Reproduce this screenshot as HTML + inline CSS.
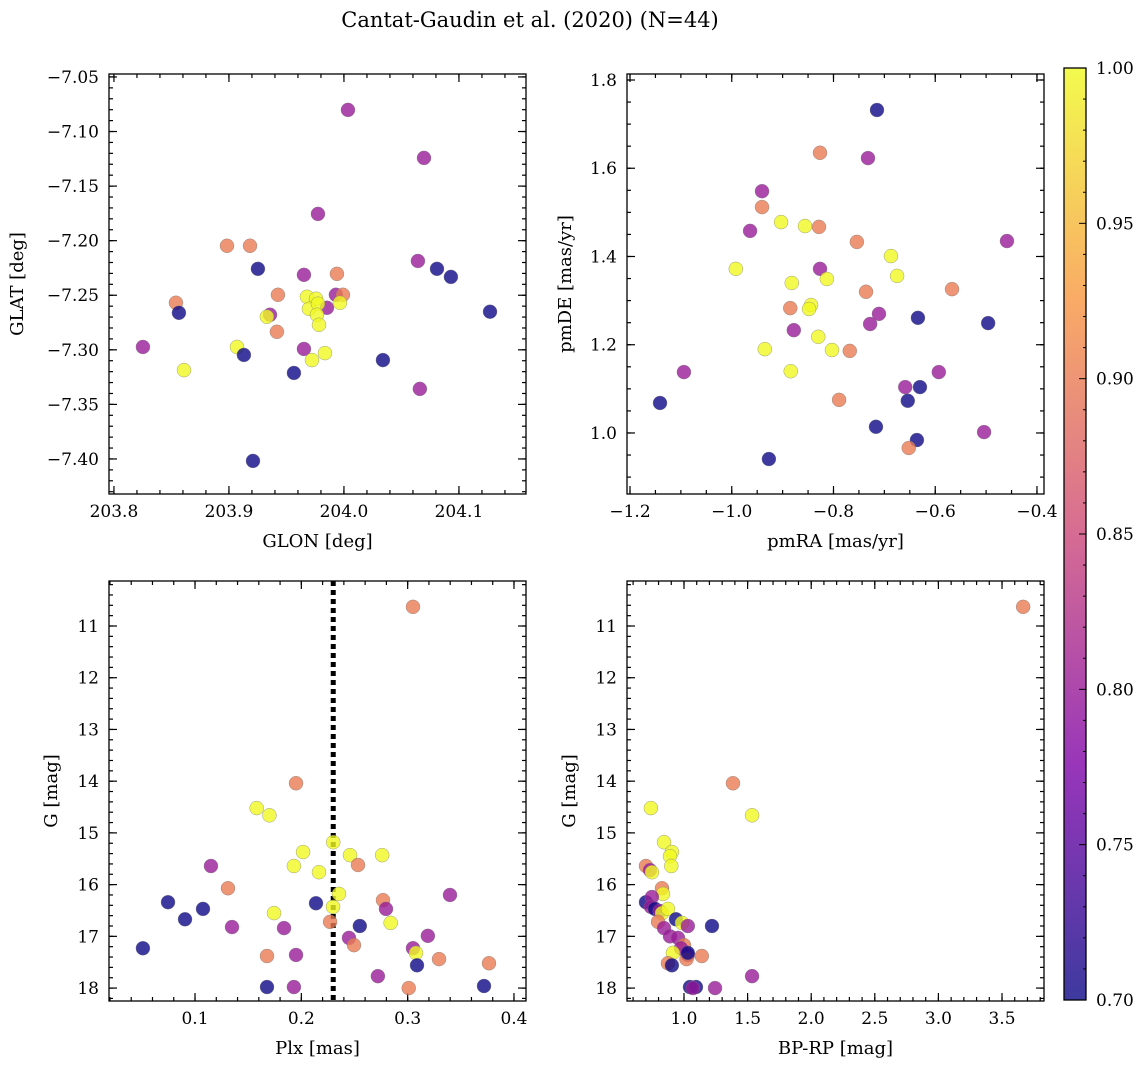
<!DOCTYPE html>
<html><head><meta charset="utf-8"><style>
html,body{margin:0;padding:0;background:#fff;}
svg text{font-family:"DejaVu Serif","Liberation Serif",serif;fill:#000;}
</style></head><body>
<svg id="fig" width="1148" height="1068" xmlns="http://www.w3.org/2000/svg">
<defs><linearGradient id="plasma" x1="0" y1="1" x2="0" y2="0">
<stop offset="0" stop-color="#0d0887"/><stop offset="0.25" stop-color="#7e03a8"/><stop offset="0.5" stop-color="#cc4778"/><stop offset="0.75" stop-color="#f89540"/><stop offset="1" stop-color="#f0f921"/></linearGradient></defs>
<text x="530" y="27" font-size="21" text-anchor="middle">Cantat-Gaudin et al. (2020) (N=44)</text>
</svg>
<script>
// Panel 1: GLON vs GLAT
const p1x=[204.0035,204.0696,203.9774,203.8983,203.9183,203.9252,203.9939,203.9652,204.0643,204.0809,204.093,203.8539,203.8565,204.127,203.8252,203.8609,203.907,203.913,203.9426,203.9357,203.933,203.9417,203.9565,204.0339,204.066,203.9209,203.9652,203.9722,203.9835,203.9852,203.9678,203.9757,203.9696,203.9774,203.9765,203.9783,203.9930,203.9991,203.9965];
const p1y=[-7.0802,-7.1242,-7.1755,-7.2047,-7.2047,-7.2258,-7.2304,-7.2313,-7.2186,-7.2258,-7.2332,-7.2569,-7.2661,-7.2651,-7.2974,-7.3186,-7.2974,-7.3047,-7.2496,-7.2679,-7.2697,-7.2835,-7.3212,-7.3094,-7.3358,-7.4018,-7.2992,-7.3094,-7.3030,-7.2615,-7.2514,-7.2532,-7.2624,-7.2578,-7.2679,-7.2771,-7.2496,-7.2496,-7.2569];
const p1c=[0.8,0.8,0.8,0.9,0.9,0.7,0.9,0.8,0.8,0.7,0.7,0.9,0.7,0.7,0.8,1,1,0.7,0.9,0.8,1,0.9,0.7,0.7,0.8,0.7,0.8,1,1,0.8,1,1,1,1,1,1,0.8,0.9,1];
// Panel 2: pmRA vs pmDE
const p2x=[-0.7145,-0.7322,-0.8265,-0.9405,-0.9405,-0.964,-0.903,-0.856,-0.8285,-0.754,-0.687,-0.459,-0.992,-0.8265,-0.675,-0.813,-0.882,-0.736,-0.567,-0.844,-0.848,-0.885,-0.7106,-0.728,-0.634,-0.496,-0.878,-0.83,-0.935,-0.803,-0.768,-0.884,-1.094,-0.593,-0.659,-0.63,-0.654,-0.789,-1.141,-0.7165,-0.636,-0.652,-0.504,-0.927];
const p2y=[1.732,1.623,1.635,1.548,1.512,1.458,1.478,1.469,1.467,1.433,1.401,1.435,1.372,1.372,1.356,1.349,1.34,1.32,1.326,1.29,1.281,1.283,1.27,1.247,1.261,1.249,1.233,1.218,1.19,1.188,1.186,1.14,1.138,1.138,1.104,1.104,1.073,1.075,1.068,1.014,0.984,0.966,1.002,0.941];
const p2c=[0.7,0.8,0.9,0.8,0.9,0.8,1,1,0.9,0.9,1,0.8,1,0.8,1,1,1,0.9,0.9,1,1,0.9,0.8,0.8,0.7,0.7,0.8,1,1,1,0.9,1,0.8,0.8,0.8,0.7,0.7,0.9,0.7,0.7,0.7,0.9,0.8,0.7];
// Panel 3: Plx vs G
const p3x=[0.305,0.195,0.158,0.17,0.23,0.2016,0.2458,0.276,0.115,0.193,0.2533,0.2166,0.131,0.2354,0.3398,0.0746,0.2138,0.2768,0.2298,0.2796,0.1075,0.1743,0.0906,0.227,0.284,0.255,0.1348,0.1837,0.319,0.2448,0.2495,0.305,0.051,0.3078,0.195,0.1677,0.3295,0.3088,0.3765,0.272,0.1677,0.193,0.301,0.3718];
const p3y=[10.63,14.04,14.52,14.66,15.18,15.37,15.43,15.43,15.64,15.64,15.62,15.76,16.07,16.18,16.2,16.34,16.36,16.3,16.43,16.47,16.47,16.55,16.67,16.72,16.74,16.8,16.82,16.84,16.99,17.03,17.17,17.23,17.23,17.32,17.36,17.38,17.44,17.56,17.52,17.77,17.98,17.98,18.0,17.96];
const p3c=[0.9,0.9,1,1,1,1,1,1,0.8,1,0.9,1,0.9,1,0.8,0.7,0.7,0.9,1,0.8,0.7,1,0.7,0.9,1,0.7,0.8,0.8,0.8,0.8,0.9,0.8,0.7,1,0.8,0.9,0.9,0.7,0.9,0.8,0.7,0.8,0.9,0.7];
const plxLine=0.23;
// Panel 4: BP-RP vs G
const p4x=[3.666,1.385,0.74,1.535,0.843,0.905,0.89,0.9,0.701,0.733,0.748,0.827,0.835,0.701,0.748,0.74,0.772,0.81,0.827,0.874,0.937,0.984,1.03,1.22,0.796,0.843,0.89,0.953,1.0,0.976,0.913,1.03,1.14,1.02,1.03,0.874,0.905,1.535,1.047,1.094,1.244,1.07];
const p4y=[10.63,14.04,14.52,14.66,15.18,15.37,15.45,15.64,15.64,15.72,15.76,16.07,16.18,16.34,16.24,16.43,16.47,16.51,16.55,16.47,16.67,16.74,16.8,16.8,16.72,16.84,17.0,17.03,17.17,17.23,17.32,17.36,17.38,17.44,17.32,17.52,17.56,17.77,17.98,17.98,18.0,18.0];
const p4c=[0.9,0.9,1,1,1,1,1,1,0.9,0.8,1,0.9,1,0.7,0.8,0.8,0.7,0.8,1,1,0.7,1,0.8,0.7,0.9,0.8,0.8,0.8,0.9,0.8,1,0.8,0.9,0.9,0.7,0.9,0.7,0.8,0.7,0.7,0.8,0.8];
const cbTicks=[0.70,0.75,0.80,0.85,0.90,0.95,1.00];

const NS="http://www.w3.org/2000/svg";
const svg=document.getElementById('fig');
function mk(tag,attrs,parent){const e=document.createElementNS(NS,tag);for(const k in attrs)e.setAttribute(k,attrs[k]);(parent||svg).appendChild(e);return e;}
const stops=[[0,[13,8,135]],[0.25,[126,3,168]],[0.5,[204,71,120]],[0.75,[248,149,64]],[1,[240,249,33]]];
function cmap(v){let t=Math.max(0,Math.min(1,(v-0.7)/0.3));for(let i=0;i<stops.length-1;i++){const a=stops[i],b=stops[i+1];if(t<=b[0]){const f=(t-a[0])/(b[0]-a[0]);const c=a[1].map((x,j)=>Math.round(x+(b[1][j]-x)*f));return `rgb(${c})`;}}return 'rgb(240,249,33)';}

function panel(o){
  const {L,T,W,H,x0,x1,y0,y1,inv}=o;
  const sx=v=>L+(v-x0)/(x1-x0)*W;
  const sy=v=>inv?T+(v-y0)/(y1-y0)*H:T+H-(v-y0)/(y1-y0)*H;
  const g=mk('g',{});
  
  
  function ticks(min,max,step,isX,major){
    const n0=Math.ceil(min/step-1e-6),n1=Math.floor(max/step+1e-6);
    for(let n=n0;n<=n1;n++){const v=n*step;const len=major?8:4;
      if(isX){const x=sx(v);mk('line',{x1:x,x2:x,y1:T+H,y2:T+H-len,stroke:'#000','stroke-width':1.2},g);mk('line',{x1:x,x2:x,y1:T,y2:T+len,stroke:'#000','stroke-width':1.2},g);
        if(major){const t=mk('text',{x:x,y:T+H+23,'font-size':17,'text-anchor':'middle'},g);t.textContent=o.xf(v);}}
      else{const y=sy(v);mk('line',{x1:L,x2:L+len,y1:y,y2:y,stroke:'#000','stroke-width':1.2},g);mk('line',{x1:L+W,x2:L+W-len,y1:y,y2:y,stroke:'#000','stroke-width':1.2},g);
        if(major){const t=mk('text',{x:L-10,y:y+6,'font-size':17,'text-anchor':'end'},g);t.textContent=o.yf(v);}}
    }}
  const xa=Math.min(x0,x1),xb=Math.max(x0,x1),ya=Math.min(y0,y1),yb=Math.max(y0,y1);
  ticks(xa,xb,o.xminor,true,false);ticks(xa,xb,o.xmajor,true,true);
  ticks(ya,yb,o.yminor,false,false);ticks(ya,yb,o.ymajor,false,true);
  if(o.vline!==undefined){const l=mk('line',{x1:sx(o.vline),x2:sx(o.vline),y1:T,y2:T+H,stroke:'#000','stroke-width':5,'stroke-dasharray':'5,4'},g);}
  for(let i=0;i<o.xs.length;i++){
    const c=mk('circle',{cx:sx(o.xs[i]),cy:sy(o.ys[i]),r:7,fill:cmap(o.cs[i]),'fill-opacity':0.8,stroke:'#777','stroke-width':0.5,'stroke-opacity':0.7},g);
    
    
  }
  mk('rect',{x:L,y:T,width:W,height:H,fill:'none',stroke:'#000','stroke-width':1.3},g);
  const xl=mk('text',{x:L+W/2,y:T+H+53,'font-size':18,'text-anchor':'middle'},g);xl.textContent=o.xlabel;
  
  const yx=o.ylx,yy=T+H/2;
  const yl=mk('text',{x:yx,y:yy,'font-size':18,'text-anchor':'middle',transform:`rotate(-90 ${yx} ${yy})`},g);yl.textContent=o.ylabel;
  
}
const f=(d)=>v=>v.toFixed(d);
panel({name:'glon-glat-panel',L:109,T:74,W:417,H:420,x0:203.7957,x1:204.1583,y0:-7.4321,y1:-7.0473,xmajor:0.1,xminor:0.02,ymajor:0.05,yminor:0.01,xf:f(1),yf:v=>'\u2212'+Math.abs(v).toFixed(2),xs:p1x,ys:p1y,cs:p1c,xlabel:'GLON [deg]',ylabel:'GLAT [deg]',ylx:23});
panel({name:'pm-panel',L:627,T:74,W:417,H:420,x0:-1.2059,x1:-0.3862,y0:0.8617,y1:1.8136,xmajor:0.2,xminor:0.05,ymajor:0.2,yminor:0.05,xf:v=>(v<0?'\u2212':'')+Math.abs(v).toFixed(1),yf:f(1),xs:p2x,ys:p2y,cs:p2c,xlabel:'pmRA [mas/yr]',ylabel:'pmDE [mas/yr]',ylx:571});
panel({name:'plx-g-panel',L:109,T:581,W:417,H:420,x0:0.0191,x1:0.4113,y0:10.13,y1:18.25,inv:true,xmajor:0.1,xminor:0.02,ymajor:1,yminor:0.2,xf:f(1),yf:f(0),xs:p3x,ys:p3y,cs:p3c,vline:plxLine,xlabel:'Plx [mas]',ylabel:'G [mag]',ylx:57});
panel({name:'cmd-panel',L:627,T:581,W:417,H:420,x0:0.552,x1:3.83,y0:10.13,y1:18.25,inv:true,xmajor:0.5,xminor:0.1,ymajor:1,yminor:0.2,xf:f(1),yf:f(0),xs:p4x,ys:p4y,cs:p4c,xlabel:'BP-RP [mag]',ylabel:'G [mag]',ylx:575});
const cb=mk('g',{});


const CT=68,CB=1000,CL=1064,CW=22;
mk('rect',{x:CL,y:CT,width:CW,height:CB-CT,fill:'url(#plasma)','fill-opacity':0.8},cb);
const cy=v=>CB-(v-0.7)/0.3*(CB-CT);
for(let n=70;n<=100;n++){const y=cy(n/100);mk('line',{x1:CL+CW,x2:CL+CW-(n%5===0?7:3),y1:y,y2:y,stroke:'#000'},cb);}
cbTicks.forEach(v=>{const t=mk('text',{x:CL+CW+10,y:cy(v)+6,'font-size':17},cb);t.textContent=v.toFixed(2);});
mk('rect',{x:CL,y:CT,width:CW,height:CB-CT,fill:'none',stroke:'#000','stroke-width':1.3},cb);
</script>
</body></html>
